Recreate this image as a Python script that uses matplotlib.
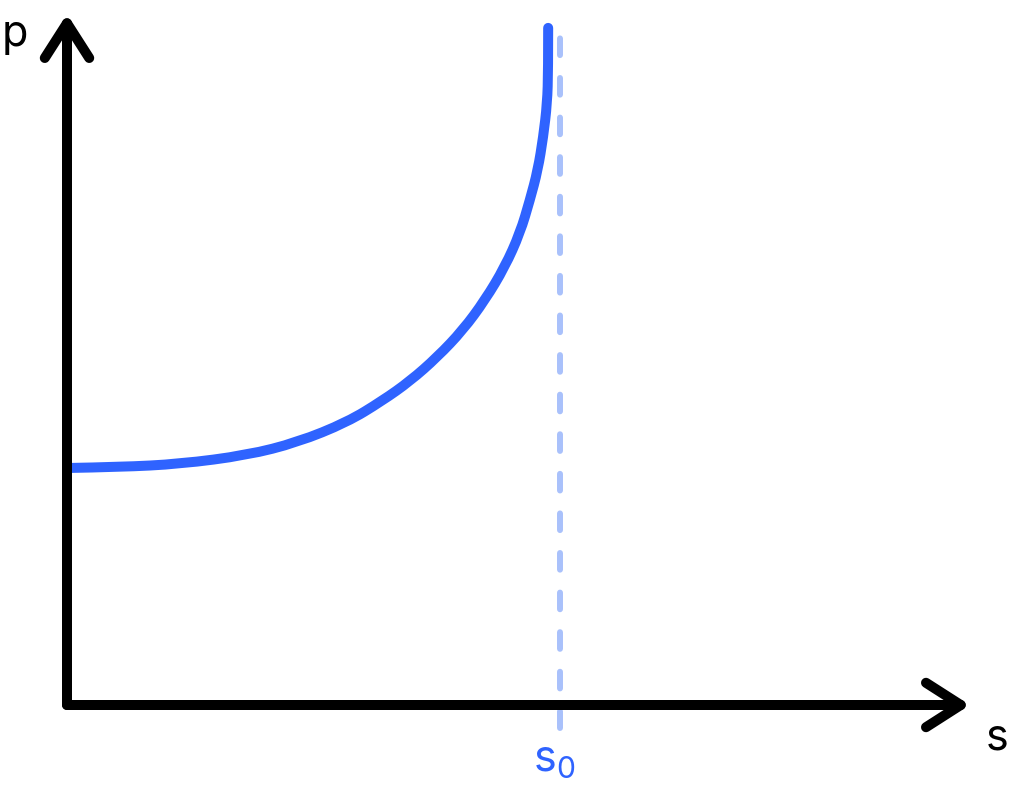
import numpy as np
import matplotlib
matplotlib.use('Agg')
import matplotlib.pyplot as plt
from matplotlib.path import Path
from matplotlib.patches import PathPatch

plt.rcParams['font.family'] = ['Inter', 'DejaVu Sans']
plt.rcParams['lines.scale_dashes'] = False
plt.rcParams['mathtext.default'] = 'regular'

# curve (s, p), s0 = 1
s_vals = [0.000, 0.108, 0.229, 0.365, 0.467, 0.568, 0.639, 0.696, 0.751,
          0.803, 0.848, 0.888, 0.919, 0.939, 0.955, 0.966, 0.974, 0.976, 0.976]
p_vals = [1.000, 1.004, 1.017, 1.054, 1.108, 1.193, 1.283, 1.367, 1.468,
          1.582, 1.709, 1.848, 1.992, 2.131, 2.257, 2.397, 2.540, 2.679, 2.857]
s0 = 1.0

blue = '#2f63ff'
light_blue = '#a9c1fb'

fig = plt.figure(figsize=(10.11, 7.86), dpi=100)
ax = fig.add_axes([0, 0, 1, 1])
# 1 unit of s = 493 px, 1 unit of p = 237 px, origin at (67, 705) px
ax.set_xlim(-67 / 493, (1011 - 67) / 493)
ax.set_ylim((705 - 786) / 237, 705 / 237)
ax.axis('off')

# asymptote
ax.plot([s0, s0], [-0.097, 2.89], color=light_blue, lw=4.3,
        dashes=(12, 16.5), dash_capstyle='round', zorder=1)

# axes with arrows
arrow = dict(arrowstyle='->,head_length=25,head_width=16', lw=7.2,
             color='black', capstyle='round', joinstyle='round',
             mutation_scale=1, shrinkA=0, shrinkB=0)
ax.annotate('', xy=((970 - 67) / 493, 0), xytext=(0, 0), arrowprops=arrow, zorder=3)
ax.annotate('', xy=(0, (705 - 14) / 237), xytext=(0, 0), arrowprops=arrow, zorder=3)

# curve: read points used as a quadratic bezier control polygon
pts = np.column_stack([s_vals, p_vals])
verts = [pts[0]]
codes = [Path.MOVETO]
for i in range(1, len(pts) - 1):
    mid = (pts[i] + pts[i + 1]) / 2 if i < len(pts) - 2 else pts[i + 1]
    verts += [pts[i], mid]
    codes += [Path.CURVE3, Path.CURVE3]
curve = PathPatch(Path(verts, codes), facecolor='none', edgecolor=blue,
                  lw=7.2, capstyle='round', joinstyle='round', zorder=2)
ax.add_patch(curve)

# labels
ax.text(-0.105, (705 - 46) / 237, 'p', fontsize=31, ha='center', va='baseline')
ax.text((997 - 67) / 493, (705 - 750) / 237, 's', fontsize=31, ha='center', va='baseline')
ax.text(s0 - 0.012, (705 - 772) / 237, r'$s_0$', fontsize=31, color=blue,
        ha='center', va='baseline')

fig.savefig('out.png', dpi=100)
